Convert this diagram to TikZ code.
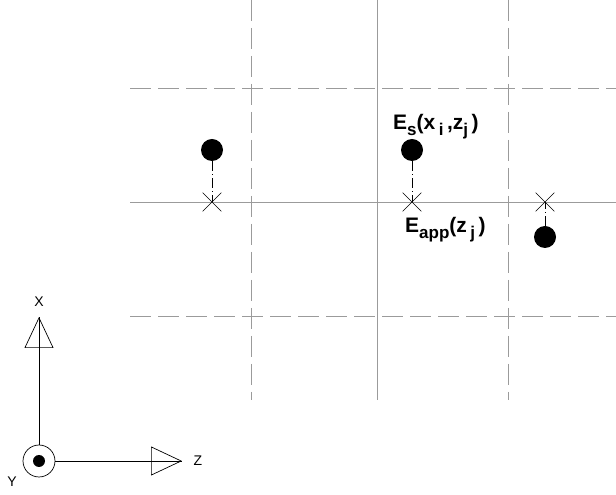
\documentclass[tikz,border=0pt]{standalone}
\usepackage{fontspec}
\setmainfont{Liberation Sans}
\usepackage{tikz}
\usetikzlibrary{calc,arrows.meta,shapes.misc,positioning}
\definecolor{gridgray}{RGB}{155,155,155}
\definecolor{ink}{RGB}{0,0,0}
\tikzset{
  gline/.style={gridgray,line width=0.8pt},
  gdash/.style={gridgray,line width=0.8pt,dash pattern=on 21pt off 7pt},
  gdot/.style={circle,fill=ink,inner sep=0pt,minimum size=22pt},
  gcross/.style={cross out,draw=ink,line width=0.6pt,inner sep=0pt,minimum size=18pt},
  gproj/.style={ink,line width=0.6pt,dash pattern=on 10pt off 3pt on 1pt off 3pt},
  gaxis/.style={ink,line width=0.7pt},
  gtip/.style={-{Triangle[open,length=31pt,width=29pt,line width=0.7pt]}},
  glabel/.style={font=\fontsize{21}{21}\selectfont\bfseries,inner sep=0pt},
  gaxlabel/.style={font=\fontsize{14}{14}\selectfont,inner sep=0pt},
}
\newcommand{\lowidx}[1]{\raisebox{-0.5ex}{\fontsize{17}{17}\selectfont\bfseries #1}}

\begin{document}
\begin{tikzpicture}[x=1pt,y=1pt]
  \useasboundingbox (0,0) rectangle (616,495);
  % grid
  \foreach \gx/\gs in {251/gdash,377/gline,508/gdash}
    \draw[\gs] (\gx,495) -- (\gx,95);
  \foreach \gy/\gs in {407/gdash,293/gline,179/gdash}
    \draw[\gs] (130,\gy) -- (616,\gy);
  % points and projections
  \node[gdot] (dotA) at (212,345) {};
  \node[gdot] (dotB) at (412,345) {};
  \node[gdot] (dotC) at (545,258) {};
  \node[gcross] (crsA) at (212,293) {};
  \node[gcross] (crsB) at (412,293) {};
  \node[gcross] (crsC) at (545,293) {};
  \foreach \n in {A,B,C} {\draw[gproj] (dot\n) -- (crs\n.center);}
  \node[glabel,anchor=base west] (lblEs) at (393,365)
    {E\lowidx{s}(x\,\lowidx{i}\,,z\lowidx{j}\,)};
  \node[glabel,anchor=base west] (lblEapp) at (405,262)
    {E\lowidx{app}(z\,\lowidx{j}\,)};
  % axes
  \node[circle,draw=ink,line width=0.7pt,minimum size=32pt,inner sep=0pt] (orig) at (39,34) {};
  \node[circle,fill=ink,minimum size=12pt,inner sep=0pt] (origdot) at (orig) {};
  \coordinate (xtip) at (39,178);
  \coordinate (ztip) at (182,34);
  \draw[gaxis] (orig) -- (xtip);
  \draw[gaxis] (orig) -- (ztip);
  \draw[gaxis,gtip] (orig) -- (xtip);
  \draw[gaxis,gtip] (orig) -- (ztip);
  \node[gaxlabel] (lblX) at (39,193) {X};
  \node[gaxlabel] (lblZ) at (198,34) {Z};
  \node[gaxlabel] (lblY) at (12,13) {Y};
\end{tikzpicture}
\end{document}
